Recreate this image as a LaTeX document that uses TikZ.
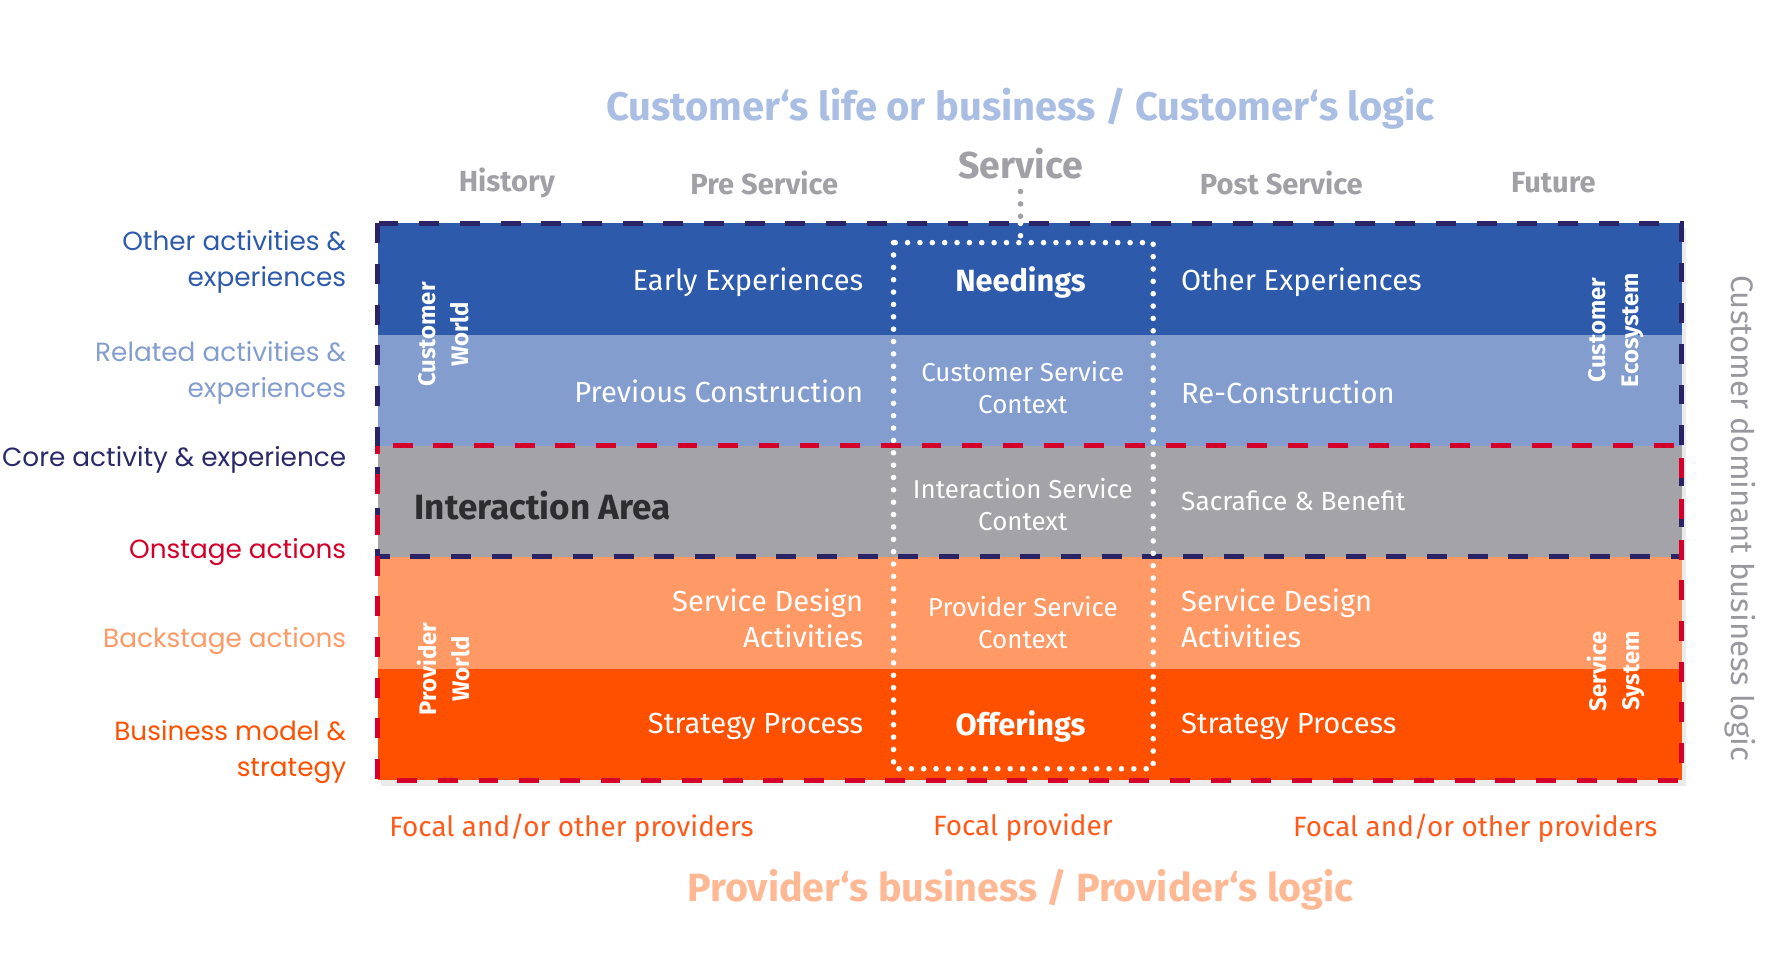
\documentclass[tikz,border=0pt]{standalone}
\usepackage{fontspec}
\setmainfont{Fira Sans}
\newfontfamily\sidefont{Poppins}
\definecolor{bandA}{HTML}{2E5AAC}
\definecolor{bandB}{HTML}{839DCE}
\definecolor{bandC}{HTML}{A3A3A8}
\definecolor{bandD}{HTML}{FF9966}
\definecolor{bandE}{HTML}{FF5000}
\definecolor{navy}{HTML}{2A2466}
\definecolor{crimson}{HTML}{D4002A}
\definecolor{headgray}{HTML}{A0A0A6}
\definecolor{titleblue}{HTML}{A9BEE2}
\definecolor{titleorange}{HTML}{FFB894}
\definecolor{coreblue}{HTML}{2A2A6A}
\definecolor{focalorange}{HTML}{FF5A1A}
\definecolor{darktext}{HTML}{2D2D30}
\tikzset{
  cell/.style={text=white, inner sep=0pt, font=\fontsize{7.3}{9.1}\selectfont},
  ctx/.style={text=white, inner sep=0pt, align=center, font=\fontsize{6.5}{8}\selectfont},
  hub/.style={text=white, inner sep=0pt, font=\bfseries\fontsize{7.7}{9}\selectfont},
  world/.style={text=white, inner sep=0pt, align=center, rotate=90, font=\bfseries\fontsize{6}{8.2}\selectfont},
  side/.style={anchor=east, align=right, inner sep=0pt, font=\sidefont\fontsize{6.6}{9.1}\selectfont},
  phase/.style={text=headgray, inner sep=0pt, font=\bfseries\fontsize{7.3}{9}\selectfont},
  focal/.style={text=focalorange, inner sep=0pt, font=\fontsize{7}{9}\selectfont},
  layer/.style={line width=1.3pt, dash pattern=on 5pt off 5.2pt},
  servdots/.style={line width=1.4pt, line cap=round, dash pattern=on 0pt off 3.1pt}
}
\begin{document}
\begin{tikzpicture}[x=0.01cm, y=-0.01cm]
\useasboundingbox (0,0) rectangle (1568,862);

% shadow and bands
\fill[black!8] (336,201) rectangle (1487,693);
\foreach \c [count=\i] in {bandA,bandB,bandC,bandD,bandE}
{
    \fill[\c] (333,{197+(\i-1)*98.2}) rectangle (1483,{197+\i*98.2});
}

% headings
\node[text=titleblue, font=\bfseries\fontsize{10}{12}\selectfont] (cust) at (900,96) {Customer‘s life or business / Customer‘s logic};
\node[phase] (hist) at (447,161) {History};
\node[phase] (pre) at (674,161) {Pre Service};
\node[phase, font=\bfseries\fontsize{9.4}{11}\selectfont] (serv) at (900,144) {Service};
\node[phase] (post) at (1130,161) {Post Service};
\node[phase] (fut) at (1370,161) {Future};

% row labels
\node[side, text=bandA] (other) at (306,231) {Other activities \&\\experiences};
\node[side, text=bandB] (related) at (306,329) {Related activities \&\\experiences};
\node[side, text=coreblue] (core) at (306,406) {Core activity \& experience};
\node[side, text=crimson] (onstage) at (306,487) {Onstage actions};
\node[side, text=bandD] (backstage) at (306,565) {Backstage actions};
\node[side, text=bandE] (model) at (306,663) {Business model \&\\strategy};

% cells
\node[cell, anchor=east] (early) at (762,249) {Early Experiences};
\node[cell, anchor=east] (prev) at (762,345) {Previous Construction};
\node[hub] (need) at (900,249) {Needings};
\node[ctx] (cctx) at (902,342) {Customer Service\\Context};
\node[cell, anchor=west] (oexp) at (1041,249) {Other Experiences};
\node[cell, anchor=west] (recon) at (1041,346) {Re-Construction};
\node[anchor=west, text=darktext, inner sep=0pt, font=\bfseries\fontsize{8.8}{10}\selectfont] (area) at (365,446) {Interaction Area};
\node[ctx] (ictx) at (902,445) {Interaction Service\\Context};
\node[cell, anchor=west, font=\fontsize{6.6}{8}\selectfont] (sacr) at (1041,442) {Sacrafice \& Benefit};
\node[cell, anchor=east, align=right] (sdl) at (762,545) {Service Design\\Activities};
\node[ctx] (pctx) at (902,549) {Provider Service\\Context};
\node[cell, anchor=west, align=left] (sdr) at (1041,545) {Service Design\\Activities};
\node[cell, anchor=east] (stl) at (762,641) {Strategy Process};
\node[hub] (offer) at (900,641) {Offerings};
\node[cell, anchor=west] (str) at (1041,641) {Strategy Process};

% worlds
\node[world] (cworld) at (391,295) {Customer\\World};
\node[world] (ceco) at (1425,291) {Customer\\Ecosystem};
\node[world] (pworld) at (391,590) {Provider\\World};
\node[world] (ssys) at (1425,592) {Service\\System};
\node[rotate=-90, text=headgray!95!black, inner sep=0pt, font=\fontsize{7.8}{10}\selectfont] (logic) at (1535,457) {Customer dominant business logic};

% bottom
\node[focal] (fl) at (504,730) {Focal and/or other providers};
\node[focal] (fc) at (902,730) {Focal provider};
\node[focal] (fr) at (1301,730) {Focal and/or other providers};
\node[text=titleorange, font=\bfseries\fontsize{9.9}{12}\selectfont] (prov) at (900,785) {Provider‘s business / Provider‘s logic};

% dashed layers
\draw[layer, navy] (333,197) rectangle (1483,491);
\draw[layer, crimson, dash phase=3pt] (333,393) rectangle (1483,688);

% service box
\coordinate (frametop) at (900,197);
\coordinate (boxtop) at (900,214);
\draw[servdots, headgray] ([yshift=-3pt]serv.south) -- (frametop);
\draw[servdots, white] (frametop) -- (boxtop);
\draw[servdots, white] (788,214) rectangle (1017,678);

\end{tikzpicture}
\end{document}
